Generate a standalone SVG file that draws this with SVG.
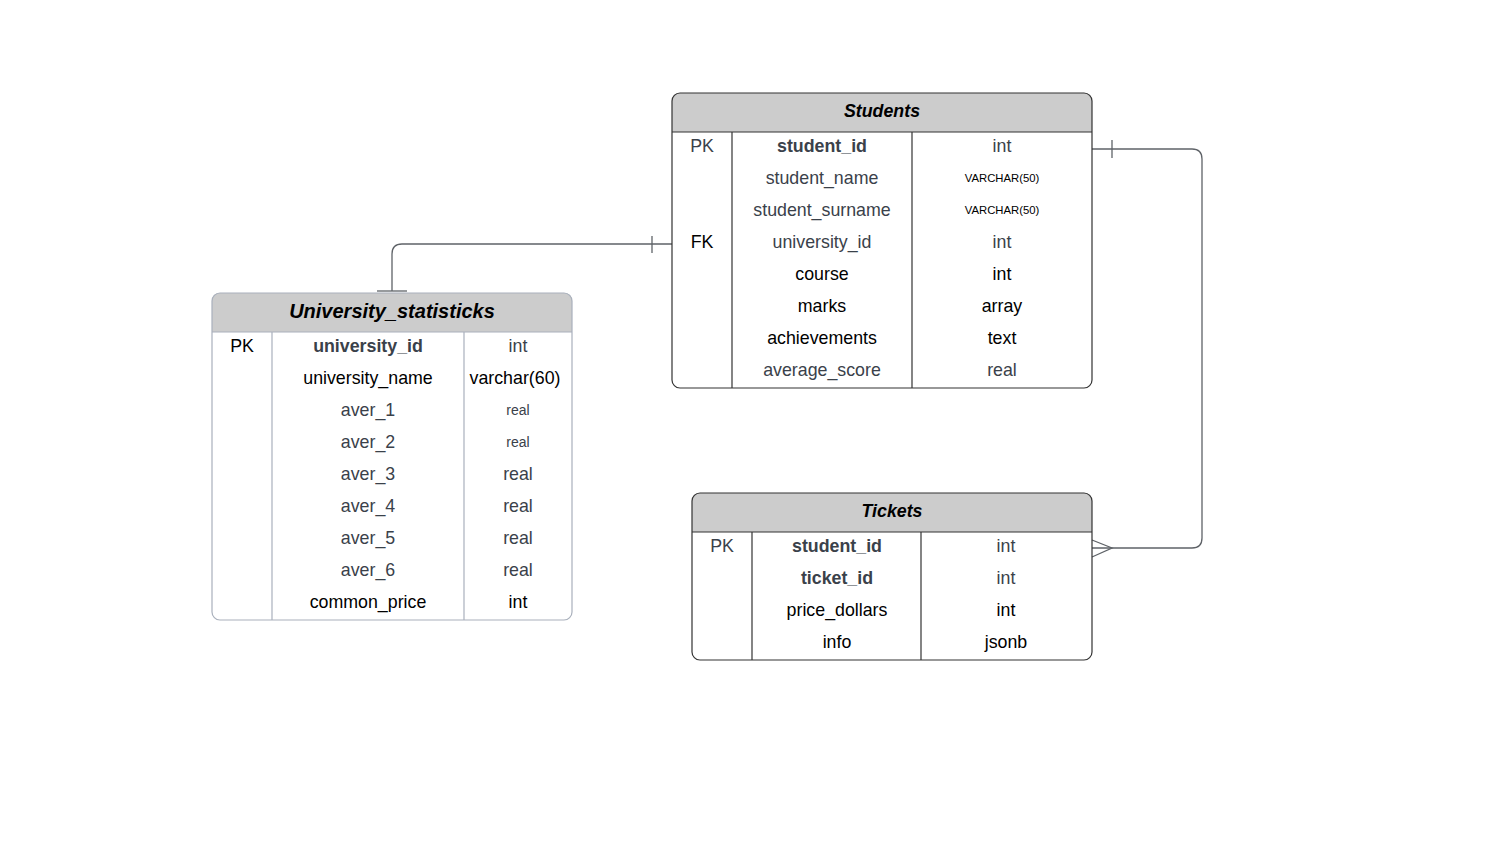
<svg xmlns="http://www.w3.org/2000/svg" width="1493" height="848" viewBox="0 0 1493 848">
<style>
text{font-family:"Liberation Sans",Arial,sans-serif;font-size:17.8px;text-anchor:middle;dominant-baseline:central}
.g{fill:#3a414a}
.k{fill:#000}
.b{font-weight:bold}
.h{font-weight:bold;font-style:italic;fill:#000}
.s{font-size:11.3px}
.m{font-size:14px}
.frame{fill:#fff}
.dark{stroke:#333;stroke-width:1.2}
.light{stroke:#a9b0bc;stroke-width:1.2}
.hd{fill:#ccc}
.con{fill:none;stroke:#5f6368;stroke-width:1.3}
</style>
<rect width="1493" height="848" fill="#fff"/>
<g id="connectors">
<path class="con" d="M672 244 H402 Q392 244 392 254 V291"/>
<line class="con" x1="652" y1="236" x2="652" y2="253"/>
<line class="con" x1="377" y1="291" x2="407" y2="291"/>
<path class="con" d="M1092 149 H1192 Q1202 149 1202 159 V538 Q1202 548 1192 548 H1092"/>
<line class="con" x1="1112" y1="140" x2="1112" y2="158"/>
<path class="con" d="M1092 540 L1112 548 L1092 557"/>
</g>
<g id="students">
<path class="hd" d="M680 93 H1084 Q1092 93 1092 101 V132 H672 V101 Q672 93 680 93Z"/>
<rect x="672" y="93" width="420" height="295" rx="8" fill="none" class="dark"/>
<line class="dark" x1="672" y1="132" x2="1092" y2="132"/>
<line class="dark" x1="732" y1="132" x2="732" y2="388"/>
<line class="dark" x1="912" y1="132" x2="912" y2="388"/>
<text class="h" x="882" y="111">Students</text>
<text class="g" x="702" y="146">PK</text><text class="g b" x="822" y="146">student_id</text><text class="g" x="1002" y="146">int</text>
<text class="g" x="822" y="178">student_name</text><text class="k s" x="1002" y="178">VARCHAR(50)</text>
<text class="g" x="822" y="210">student_surname</text><text class="k s" x="1002" y="210">VARCHAR(50)</text>
<text class="k" x="702" y="242">FK</text><text class="g" x="822" y="242">university_id</text><text class="g" x="1002" y="242">int</text>
<text class="k" x="822" y="274">course</text><text class="k" x="1002" y="274">int</text>
<text class="k" x="822" y="306">marks</text><text class="k" x="1002" y="306">array</text>
<text class="k" x="822" y="338">achievements</text><text class="k" x="1002" y="338">text</text>
<text class="g" x="822" y="370">average_score</text><text class="g" x="1002" y="370">real</text>
</g>
<g id="university_statisticks">
<path class="hd" d="M220 293 H564 Q572 293 572 301 V332 H212 V301 Q212 293 220 293Z"/>
<rect x="212" y="293" width="360" height="327" rx="8" fill="none" class="light"/>
<line class="light" x1="212" y1="332" x2="572" y2="332"/>
<line class="light" x1="272" y1="332" x2="272" y2="620"/>
<line class="light" x1="464" y1="332" x2="464" y2="620"/>
<text class="h" x="392" y="311" style="font-size:20px">University_statisticks</text>
<text class="k" x="242" y="346">PK</text><text class="g b" x="368" y="346">university_id</text><text class="g" x="518" y="346">int</text>
<text class="k" x="368" y="378">university_name</text><text class="k" x="515" y="378">varchar(60)</text>
<text class="g" x="368" y="410">aver_1</text><text class="g m" x="518" y="410">real</text>
<text class="g" x="368" y="442">aver_2</text><text class="g m" x="518" y="442">real</text>
<text class="g" x="368" y="474">aver_3</text><text class="g" x="518" y="474">real</text>
<text class="g" x="368" y="506">aver_4</text><text class="g" x="518" y="506">real</text>
<text class="g" x="368" y="538">aver_5</text><text class="g" x="518" y="538">real</text>
<text class="g" x="368" y="570">aver_6</text><text class="g" x="518" y="570">real</text>
<text class="k" x="368" y="602">common_price</text><text class="k" x="518" y="602">int</text>
</g>
<g id="tickets">
<path class="hd" d="M700 493 H1084 Q1092 493 1092 501 V532 H692 V501 Q692 493 700 493Z"/>
<rect x="692" y="493" width="400" height="167" rx="8" fill="none" class="dark"/>
<line class="dark" x1="692" y1="532" x2="1092" y2="532"/>
<line class="dark" x1="752" y1="532" x2="752" y2="660"/>
<line class="dark" x1="921" y1="532" x2="921" y2="660"/>
<text class="h" x="892" y="511">Tickets</text>
<text class="g" x="722" y="546">PK</text><text class="g b" x="837" y="546">student_id</text><text class="g" x="1006" y="546">int</text>
<text class="g b" x="837" y="578">ticket_id</text><text class="g" x="1006" y="578">int</text>
<text class="k" x="837" y="610">price_dollars</text><text class="k" x="1006" y="610">int</text>
<text class="k" x="837" y="642">info</text><text class="k" x="1006" y="642">jsonb</text>
</g>
</svg>
